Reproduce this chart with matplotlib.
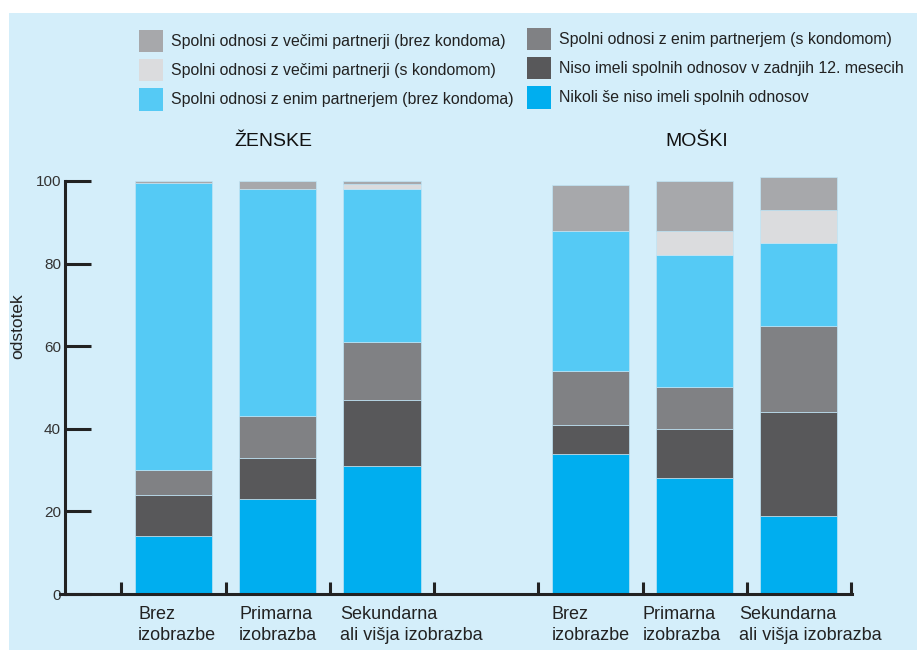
import matplotlib
matplotlib.use("Agg")
import matplotlib.pyplot as plt
from matplotlib.patches import Rectangle
import matplotlib.transforms as mtransforms

plt.rcParams["font.family"] = ["Liberation Sans", "DejaVu Sans"]

# data (percent), women: 3 education levels, men: 3 education levels
positions = [0, 1, 2, 4, 5, 6]
x_labels = ["Brez\nizobrazbe", "Primarna\nizobrazba", "Sekundarna\nali višja izobrazba"] * 2
label_offsets = [0.03, 0.0, -0.03, 0.0, -0.13, -0.2]
groups = ["ŽENSKE", "MOŠKI"]
group_x_px = [273, 697]

nikoli = [14, 23, 31, 34, 28, 19]
niso_12 = [10, 10, 16, 7, 12, 25]
enim_s = [6, 10, 14, 13, 10, 21]
enim_brez = [69.5, 55, 37, 34, 32, 20]
vec_s = [0, 0, 1.2, 0, 6, 8]
vec_brez = [0.5, 2, 0.8, 11, 12, 8]

series = [
    ("Nikoli še niso imeli spolnih odnosov", nikoli, "#00aeef"),
    ("Niso imeli spolnih odnosov v zadnjih 12. mesecih", niso_12, "#58585a"),
    ("Spolni odnosi z enim partnerjem (s kondomom)", enim_s, "#808184"),
    ("Spolni odnosi z enim partnerjem (brez kondoma)", enim_brez, "#55caf5"),
    ("Spolni odnosi z večimi partnerji (s kondomom)", vec_s, "#dbdcde"),
    ("Spolni odnosi z večimi partnerji (brez kondoma)", vec_brez, "#a7a8ab"),
]

bg = "#d4eefa"
ink = "#222222"

fig = plt.figure(figsize=(9.17, 6.5), dpi=100, facecolor="white")
fig.patches.append(Rectangle((9 / 917, 0), 1, 1 - 13 / 650, transform=fig.transFigure,
                             facecolor=bg, edgecolor="none", zorder=-10))

ax = fig.add_axes([60 / 917, 1 - 594 / 650, 792 / 917, (594 - 172.7) / 650])
ax.set_facecolor("none")

handles = {}
bottom = [0] * len(positions)
for label, vals, color in series:
    h = ax.bar(positions, vals, width=0.74, bottom=bottom, color=color,
               edgecolor="#bfe4f5", linewidth=0.5, label=label)
    handles[label] = h
    bottom = [b + v for b, v in zip(bottom, vals)]

ax.set_xlim(-1.09, 6.51)
ax.set_ylim(0, 102)

for s in ["top", "right"]:
    ax.spines[s].set_visible(False)
ax.spines["left"].set_position(("data", -1.04))
ax.spines["left"].set_bounds(0, 100)
for s in ["left", "bottom"]:
    ax.spines[s].set_linewidth(2.2)
    ax.spines[s].set_color(ink)

ax.set_yticks([0, 20, 40, 60, 80, 100])
ax.tick_params(axis="y", direction="in", length=19, width=2.2, color=ink,
               labelsize=11, labelcolor="#333333", pad=3)
ax.set_xticks([p - 0.5 for p in range(0, 8)])
ax.set_xticklabels([])
ax.tick_params(axis="x", direction="in", length=8.5, width=2.2, color=ink)

trans = mtransforms.blended_transform_factory(ax.transData, fig.transFigure)
for p, lab, off in zip(positions, x_labels, label_offsets):
    ax.text(p - 0.37 + off, 1 - 606 / 650, lab, transform=trans, ha="left", va="top",
            fontsize=13, color="#222222", linespacing=1.3)

for g, xp in zip(groups, group_x_px):
    fig.text(xp / 917, 1 - 141 / 650, g, ha="center", va="center",
             fontsize=14, color="#111111")

fig.text(18 / 917, 1 - 326 / 650, "odstotek", rotation=90, ha="center", va="center",
         fontsize=12.5, color="#222222")

left_keys = [series[5][0], series[4][0], series[3][0]]
right_keys = [series[2][0], series[1][0], series[0][0]]
leg_kw = dict(frameon=False, loc="upper left", fontsize=11.4, handlelength=1.5,
              handleheight=1.8, labelspacing=0.42, handletextpad=0.55, borderpad=0,
              borderaxespad=0)
leg1 = fig.legend([handles[k] for k in left_keys], left_keys,
                  bbox_to_anchor=(139 / 917, 1 - 30 / 650), **leg_kw)
leg2 = fig.legend([handles[k] for k in right_keys], right_keys,
                  bbox_to_anchor=(527 / 917, 1 - 28 / 650), **leg_kw)
for leg in (leg1, leg2):
    for t in leg.get_texts():
        t.set_color("#222222")
    for p in leg.get_patches():
        p.set_edgecolor("none")

fig.savefig("out.png", dpi=100, facecolor="white")
